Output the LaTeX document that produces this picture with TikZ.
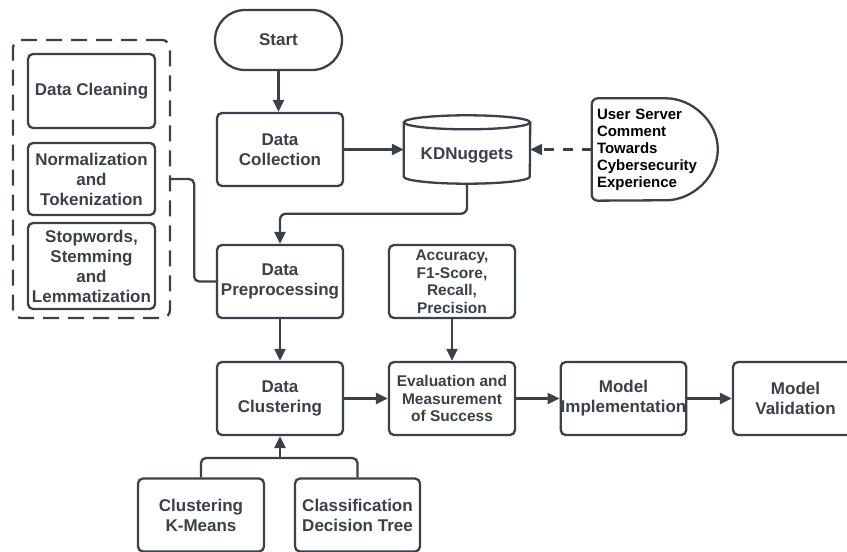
\documentclass[tikz,border=0pt]{standalone}
\usepackage{fontspec}
\setmainfont{Liberation Sans}
\usetikzlibrary{arrows.meta}
\definecolor{dk}{HTML}{3A414A}
\tikzset{
  ln/.style={draw=dk, line width=2.3pt},
  arr/.style={ln, -{Triangle[length=12pt,width=11pt]}},
  bx/.style={draw=dk, line width=2.3pt, rounded corners=5pt, fill=white, text=dk,
    font=\bfseries\fontsize{17}{20}\selectfont, align=center, inner sep=0pt,
    minimum width=126pt, minimum height=73pt},
  smallbx/.style={bx, font=\bfseries\fontsize{15.5}{17.5}\selectfont},
}
\begin{document}
\begin{tikzpicture}[x=1pt,y=-1pt]
\useasboundingbox (0,0) rectangle (847,552);
\clip (0,0) rectangle (847,552);
\fill[white] (0,0) rectangle (847,552);

% left dashed group
\node[draw=dk, line width=2.3pt, dash pattern=on 16pt off 9pt, rounded corners=8pt,
  minimum width=157pt, minimum height=278pt, inner sep=0pt] (grp) at (91.5,179) {};
\node[bx, minimum width=127pt, minimum height=74pt] (clean) at (91.5,91) {Data Cleaning};
\node[bx, minimum width=127pt, minimum height=72pt] (norm) at (91.5,179) {Normalization\\and\\Tokenization};
\node[bx, minimum width=127pt, minimum height=86pt] (stop) at (91.5,266) {Stopwords,\\Stemming\\and\\Lemmatization};

% main column
\node[bx, minimum width=127pt, minimum height=60pt, rounded corners=30pt] (start) at (278.5,40) {Start};
\node[bx] (dcol) at (280,149.5) {Data\\Collection};
\node[bx] (dp) at (280,281.5) {Data\\Preprocessing};
\node[bx] (dcl) at (280,398.5) {Data\\Clustering};
\node[smallbx] (acc) at (452,281.5) {Accuracy,\\F1-Score,\\Recall,\\Precision};
\node[smallbx] (ev) at (452,398.5) {Evaluation and\\Measurement\\of Success};
\node[bx, minimum width=125pt] (mi) at (623.5,398.5) {Model\\Implementation};
\node[bx, minimum width=125pt] (mv) at (795.5,398.5) {Model\\Validation};
\node[bx] (km) at (201,515) {Clustering\\K-Means};
\node[bx, minimum width=125pt] (cdt) at (357.5,515) {Classification\\Decision Tree};

% KDNuggets cylinder
\node[minimum width=126pt, minimum height=68pt, inner sep=0pt] (kd) at (467,149.5) {};
\fill[white] ([yshift=-7pt]kd.north west) -- ([yshift=7pt]kd.south west)
  arc[start angle=180,end angle=360,x radius=63pt,y radius=7pt]
  -- ([yshift=-7pt]kd.north east) arc[start angle=0,end angle=180,x radius=63pt,y radius=7pt] -- cycle;
\draw[ln] ([yshift=-7pt]kd.north) ellipse[x radius=63pt, y radius=7pt];
\draw[ln] ([yshift=-7pt]kd.north west) -- ([yshift=7pt]kd.south west)
  arc[start angle=180,end angle=360,x radius=63pt,y radius=7pt]
  -- ([yshift=-7pt]kd.north east);
\node[text=dk, font=\bfseries\fontsize{17}{20}\selectfont, inner sep=0pt] (kdtext) at (467,155) {KDNuggets};

% User server delay shape
\node[text width=116pt, inner xsep=5pt, inner ysep=0pt, minimum height=102pt, align=left,
  text=black, font=\bfseries\fontsize{15}{17}\selectfont] (usr) at (655,149.5)
  {User Server\\Comment\\Towards\\Cybersecurity\\Experience};
\draw[ln, rounded corners=6pt] ([xshift=68pt]usr.north west)
  arc[start angle=90,end angle=-90,x radius=58pt,y radius=51pt]
  -- (usr.south west) -- (usr.north west) -- cycle;

% connectors
\draw[arr] (start.south) -- (start.south |- dcol.north);
\draw[arr] (dcol.east) -- (kd.west);
\draw[arr, dash pattern=on 10pt off 9pt] (usr.west) -- (kd.east);
\draw[arr, rounded corners=6pt] (kd.south) -- ++(0,30) -| (dp.north);
\draw[ln, rounded corners=5pt] (grp.east) -- ++(23,0) |- (dp.west);
\draw[arr] (dp.south) -- (dcl.north);
\draw[arr] (acc.south) -- (ev.north);
\draw[arr] (dcl.east) -- (ev.west);
\draw[arr] (ev.east) -- (mi.west);
\draw[arr] (mi.east) -- (mv.west);
\coordinate (j) at (280,458);
\draw[ln, rounded corners=5pt] (km.north) |- (j) -| (cdt.north);
\draw[arr] (j) -- (dcl.south);
\end{tikzpicture}
\end{document}
